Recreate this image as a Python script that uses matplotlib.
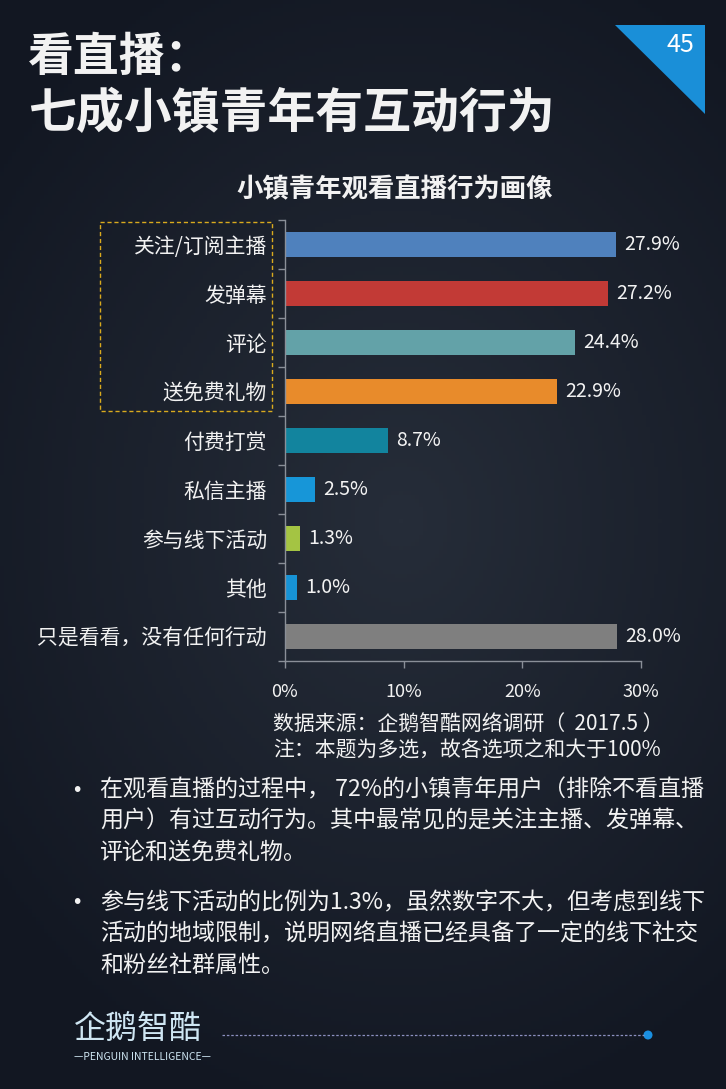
import matplotlib
matplotlib.use("Agg")
import matplotlib.pyplot as plt
import numpy as np
from matplotlib.patches import Rectangle, Polygon, Circle

plt.rcParams["font.family"] = ["Noto Sans CJK SC", "DejaVu Sans"]

categories = ["关注/订阅主播", "发弹幕", "评论", "送免费礼物", "付费打赏",
              "私信主播", "参与线下活动", "其他", "只是看看，没有任何行动"]
values = [27.9, 27.2, 24.4, 22.9, 8.7, 2.5, 1.3, 1.0, 28.0]
bar_colors = ["#4f81bd", "#c23a36", "#63a2a8", "#e88b2b", "#12849e",
              "#1796d8", "#a4c443", "#1793d6", "#7f7f7f"]
xticks = [0, 10, 20, 30]

bullet1 = ["在观看直播的过程中， 72%的小镇青年用户（排除不看直播",
           "用户）有过互动行为。其中最常见的是关注主播、发弹幕、",
           "评论和送免费礼物。"]
bullet2 = ["参与线下活动的比例为1.3%，虽然数字不大，但考虑到线下",
           "活动的地域限制，说明网络直播已经具备了一定的线下社交",
           "和粉丝社群属性。"]

W, H = 726, 1089
fig = plt.figure(figsize=(W / 100, H / 100), dpi=100)

# background gradient
bg = fig.add_axes([0, 0, 1, 1])
yy, xx = np.mgrid[0:H:4, 0:W:4]
r = np.sqrt(((xx - 400) / 520.0) ** 2 + ((yy - 520) / 620.0) ** 2)
r = np.clip(r, 0, 1)
c0 = np.array([0x26, 0x2d, 0x39]) / 255
c1 = np.array([0x12, 0x17, 0x22]) / 255
img = c0[None, None, :] * (1 - r[..., None]) + c1[None, None, :] * r[..., None]
bg.imshow(img, extent=[0, W, H, 0], aspect="auto")
bg.set_xlim(0, W)
bg.set_ylim(H, 0)
bg.axis("off")

white = "#f2f2f2"

# titles
bg.text(28, 58, "看直播：", color=white, fontsize=33, fontweight="bold", va="center")
bg.text(28, 114, "七成小镇青年有互动行为", color=white, fontsize=34.5, fontweight="bold", va="center")

# page number triangle
bg.add_patch(Polygon([(615, 25), (705, 25), (705, 114)], closed=True,
                     facecolor="#1a8fd8", edgecolor="none"))
bg.text(680, 45, "45", color="white", fontsize=18, ha="center", va="center")

# chart title
bg.text(395, 190, "小镇青年观看直播行为画像", color=white, fontsize=19,
        fontweight="bold", ha="center", va="center")

# dashed highlight box
bg.add_patch(Rectangle((100, 222), 172, 189, fill=False, edgecolor="#d9aa1e",
                       linestyle=(0, (3, 2)), linewidth=1))

# bar chart
ax = fig.add_axes([285 / W, 1 - 661 / H, 356 / W, 441 / H])
ax.patch.set_alpha(0)
y = np.arange(len(categories))
bars = ax.barh(y, values, height=0.52, color=bar_colors)
ax.set_ylim(len(categories) - 0.5, -0.5)
ax.set_xlim(0, 30)
ax.set_yticks(y)
ax.set_yticklabels(categories, fontsize=15, color=white)
ax.set_yticks(np.arange(len(categories) + 1) - 0.5, minor=True)
ax.tick_params(axis="y", which="major", length=0, pad=13)
ax.tick_params(axis="y", which="minor", length=5, color="#8a8f98", width=1)
ax.set_xticks(xticks)
ax.set_xticklabels([f"{t}%" for t in xticks], fontsize=13, color=white)
ax.tick_params(axis="x", length=5, color="#8a8f98", width=1, pad=11, direction="out")
for s in ["top", "right"]:
    ax.spines[s].set_visible(False)
for s in ["left", "bottom"]:
    ax.spines[s].set_color("#8a8f98")
    ax.spines[s].set_linewidth(1)

for bar, v in zip(bars, values):
    ax.text(bar.get_width() + 0.7, bar.get_y() + bar.get_height() / 2,
            f"{v:.1f}%", color=white, fontsize=14, ha="left", va="center")

# source notes
bg.text(273, 724, "数据来源：企鹅智酷网络调研（  2017.5 ）", color=white, fontsize=15, va="center")
bg.text(273, 751, "注：本题为多选，故各选项之和大于100%", color=white, fontsize=15, va="center")

# bullets
for start, lines in [(790, bullet1), (903, bullet2)]:
    bg.text(77, start, "•", color=white, fontsize=14, ha="center", va="center",
            family="DejaVu Sans")
    for i, line in enumerate(lines):
        bg.text(100, start + i * 31, line, color=white, fontsize=16.6, va="center")

# logo
bg.text(74, 1030, "企鹅智酷", color="#cfe6f3", fontsize=23, va="center")
bg.text(142, 1057, "—PENGUIN INTELLIGENCE—", color="#cfe6f3", fontsize=7.5,
        ha="center", va="center")
bg.plot([222, 644], [1035, 1035], color="#8c90c0", linestyle=(0, (2, 1.5)), linewidth=0.9)
bg.add_patch(Circle((648, 1035), 4.5, facecolor="#1a8fe0", edgecolor="none"))

fig.savefig("out.png", dpi=100, facecolor="#1a202b")
